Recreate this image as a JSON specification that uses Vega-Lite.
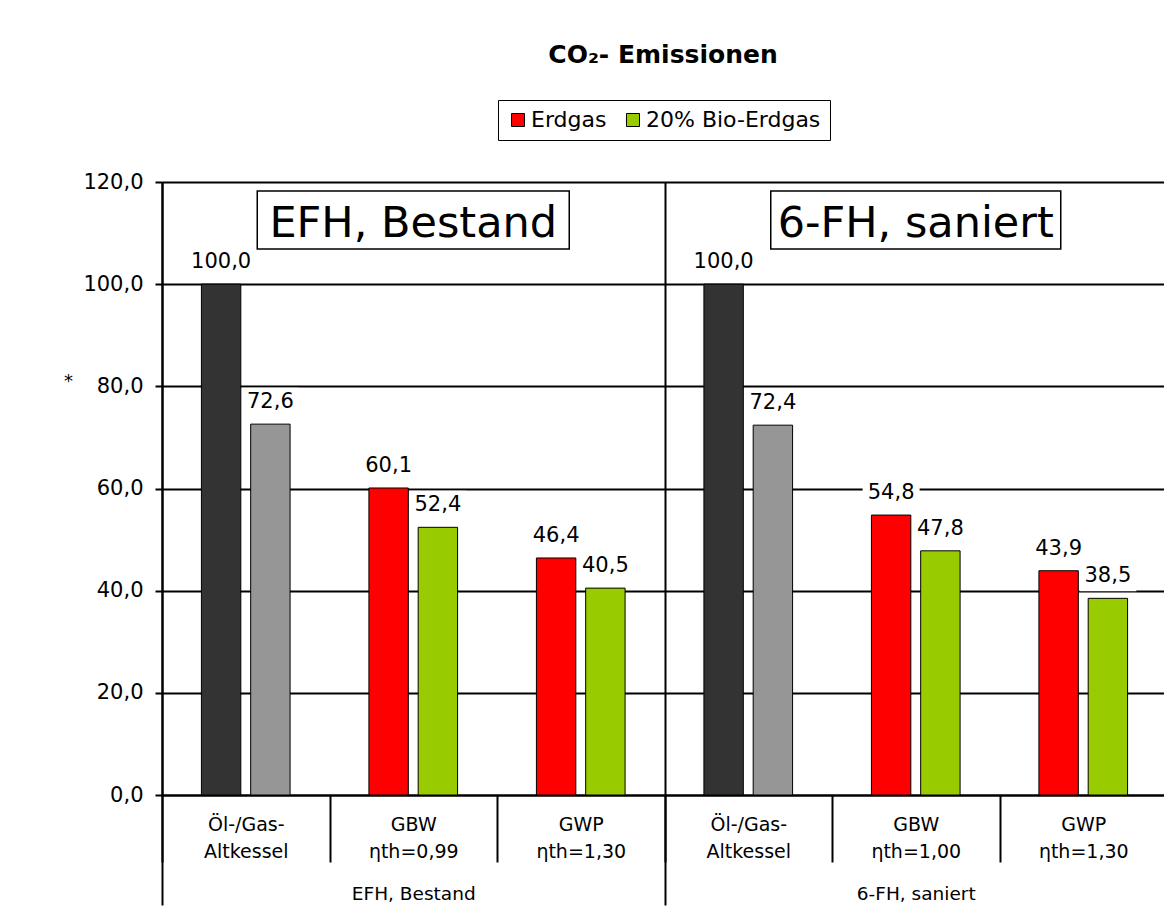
{
  "$schema": "https://vega.github.io/schema/vega-lite/v6.json",
  "width": 1002,
  "height": 613,
  "autosize": {"type": "none"},
  "padding": {"left": 162, "top": 182, "right": 0, "bottom": 129},
  "background": "white",
  "title": {
    "text": "CO₂- Emissionen",
    "font": "DejaVu Sans",
    "fontSize": 25,
    "fontWeight": "bold",
    "color": "black",
    "anchor": "middle",
    "frame": "group",
    "baseline": "alphabetic",
    "offset": 12
  },
  "datasets": {
    "werte": [
      {"gruppe": "EFH, Bestand", "anlage": "1|Öl-/Gas-|Altkessel", "brennstoff": "Erdgas", "wert": 100.0},
      {"gruppe": "EFH, Bestand", "anlage": "1|Öl-/Gas-|Altkessel", "brennstoff": "20% Bio-Erdgas", "wert": 72.6},
      {"gruppe": "EFH, Bestand", "anlage": "2|GBW|ηth=0,99", "brennstoff": "Erdgas", "wert": 60.1},
      {"gruppe": "EFH, Bestand", "anlage": "2|GBW|ηth=0,99", "brennstoff": "20% Bio-Erdgas", "wert": 52.4},
      {"gruppe": "EFH, Bestand", "anlage": "3|GWP|ηth=1,30", "brennstoff": "Erdgas", "wert": 46.4},
      {"gruppe": "EFH, Bestand", "anlage": "3|GWP|ηth=1,30", "brennstoff": "20% Bio-Erdgas", "wert": 40.5},
      {"gruppe": "6-FH, saniert", "anlage": "4|Öl-/Gas-|Altkessel", "brennstoff": "Erdgas", "wert": 100.0},
      {"gruppe": "6-FH, saniert", "anlage": "4|Öl-/Gas-|Altkessel", "brennstoff": "20% Bio-Erdgas", "wert": 72.4},
      {"gruppe": "6-FH, saniert", "anlage": "5|GBW|ηth=1,00", "brennstoff": "Erdgas", "wert": 54.8},
      {"gruppe": "6-FH, saniert", "anlage": "5|GBW|ηth=1,00", "brennstoff": "20% Bio-Erdgas", "wert": 47.8},
      {"gruppe": "6-FH, saniert", "anlage": "6|GWP|ηth=1,30", "brennstoff": "Erdgas", "wert": 43.9},
      {"gruppe": "6-FH, saniert", "anlage": "6|GWP|ηth=1,30", "brennstoff": "20% Bio-Erdgas", "wert": 38.5}
    ],
    "gruppen": [
      {"gruppe": "EFH, Bestand"},
      {"gruppe": "6-FH, saniert"}
    ]
  },
  "layer": [
    {
      "data": {"name": "werte"},
      "encoding": {
        "x": {
          "field": "anlage",
          "type": "nominal",
          "sort": "ascending",
          "scale": {"range": [0, 1005], "paddingInner": 0, "paddingOuter": 0},
          "axis": {
            "title": null,
            "labelExpr": "slice(split(datum.value, '|'), 1)",
            "labelAngle": 0,
            "labelFontSize": 19,
            "labelLineHeight": 27,
            "labelPadding": -47,
            "labelColor": "black",
            "labelOverlap": false,
            "labelBound": false,
            "tickBand": "extent",
            "tickSize": 67,
            "tickWidth": 2,
            "tickColor": "black",
            "domainColor": "black",
            "domainWidth": 2,
            "grid": false
          }
        },
        "xOffset": {
          "field": "brennstoff",
          "type": "nominal",
          "sort": ["Erdgas", "20% Bio-Erdgas"],
          "scale": {"paddingInner": 0.2, "paddingOuter": 0.8}
        },
        "y": {
          "field": "wert",
          "type": "quantitative",
          "scale": {"domain": [0, 120], "nice": false},
          "axis": {
            "values": [0, 20, 40, 60, 80, 100, 120],
            "format": ".1f",
            "title": "*",
            "titleAngle": 0,
            "titleX": -94,
            "titleY": 199,
            "titleAlign": "center",
            "titleBaseline": "middle",
            "titleFontSize": 18,
            "titleFontWeight": "normal",
            "titleColor": "black",
            "labelFontSize": 21,
            "labelColor": "black",
            "labelPadding": 12,
            "tickSize": 7,
            "tickWidth": 2,
            "tickColor": "black",
            "domainColor": "black",
            "domainWidth": 2,
            "grid": true,
            "gridColor": "black",
            "gridWidth": 2
          }
        }
      },
      "layer": [
        {
          "mark": {
            "type": "point",
            "shape": "M-1,-1.28H1V-0.245H-1Z",
            "size": 3249,
            "filled": true,
            "fill": "white",
            "strokeWidth": 0,
            "opacity": 1
          }
        },
        {
          "mark": {"type": "bar", "stroke": "black", "strokeWidth": 1},
          "encoding": {
            "color": {
              "field": "brennstoff",
              "type": "nominal",
              "condition": [
                {"test": "indexof(datum.anlage, 'Altkessel') >= 0 && datum.brennstoff == 'Erdgas'", "value": "#333333"},
                {"test": "indexof(datum.anlage, 'Altkessel') >= 0 && datum.brennstoff == '20% Bio-Erdgas'", "value": "#969696"}
              ],
              "scale": {"domain": ["Erdgas", "20% Bio-Erdgas"], "range": ["#FF0000", "#99CC00"]},
              "legend": {
                "title": null,
                "orient": "none",
                "legendX": 336,
                "legendY": -82,
                "direction": "horizontal",
                "strokeColor": "black",
                "padding": 9,
                "symbolType": "square",
                "symbolSize": 169,
                "symbolStrokeColor": "black",
                "symbolStrokeWidth": 1,
                "symbolOpacity": 1,
                "labelFontSize": 22,
                "labelColor": "black",
                "labelOffset": 2,
                "labelLimit": 0,
                "columnPadding": 15
              }
            }
          }
        },
        {
          "mark": {"type": "text", "fontSize": 21, "baseline": "alphabetic", "align": "center", "dy": -16, "color": "black"},
          "encoding": {
            "text": {"field": "wert", "type": "quantitative", "format": ".1f"}
          }
        }
      ]
    },
    {
      "data": {"name": "gruppen"},
      "encoding": {
        "x": {
          "field": "gruppe",
          "type": "nominal",
          "sort": ["EFH, Bestand", "6-FH, saniert"],
          "scale": {"range": [0, 1005], "paddingInner": 0, "paddingOuter": 0},
          "axis": {
            "orient": "bottom",
            "title": null,
            "labelAngle": 0,
            "labelFontSize": 18.5,
            "labelPadding": -21,
            "labelColor": "black",
            "tickBand": "extent",
            "tickSize": 110,
            "tickWidth": 2,
            "tickColor": "black",
            "domain": false,
            "grid": true,
            "gridColor": "black",
            "gridWidth": 2
          }
        }
      },
      "layer": [
        {
          "transform": [{"filter": "datum.gruppe == 'EFH, Bestand'"}],
          "mark": {"type": "bar", "width": 312, "fill": "white", "stroke": "black", "strokeWidth": 1.5},
          "encoding": {
            "y": {"datum": 118.24, "type": "quantitative", "axis": null},
            "y2": {"datum": 106.89}
          }
        },
        {
          "transform": [{"filter": "datum.gruppe == '6-FH, saniert'"}],
          "mark": {"type": "bar", "width": 290, "fill": "white", "stroke": "black", "strokeWidth": 1.5},
          "encoding": {
            "y": {"datum": 118.24, "type": "quantitative", "axis": null},
            "y2": {"datum": 106.89}
          }
        },
        {
          "mark": {"type": "text", "fontSize": 43, "baseline": "alphabetic", "align": "center", "color": "black"},
          "encoding": {
            "text": {"field": "gruppe"},
            "y": {"datum": 109.23, "type": "quantitative", "axis": null}
          }
        }
      ]
    }
  ],
  "resolve": {
    "scale": {"x": "independent", "color": "independent"},
    "axis": {"x": "independent", "y": "independent"}
  },
  "config": {
    "font": "DejaVu Sans",
    "view": {"stroke": null},
    "locale": {
      "number": {"decimal": ",", "thousands": ".", "grouping": [3], "currency": ["", " €"]}
    },
    "axis": {"labelFont": "DejaVu Sans", "titleFont": "DejaVu Sans"},
    "legend": {"labelFont": "DejaVu Sans"},
    "text": {"font": "DejaVu Sans"}
  }
}
